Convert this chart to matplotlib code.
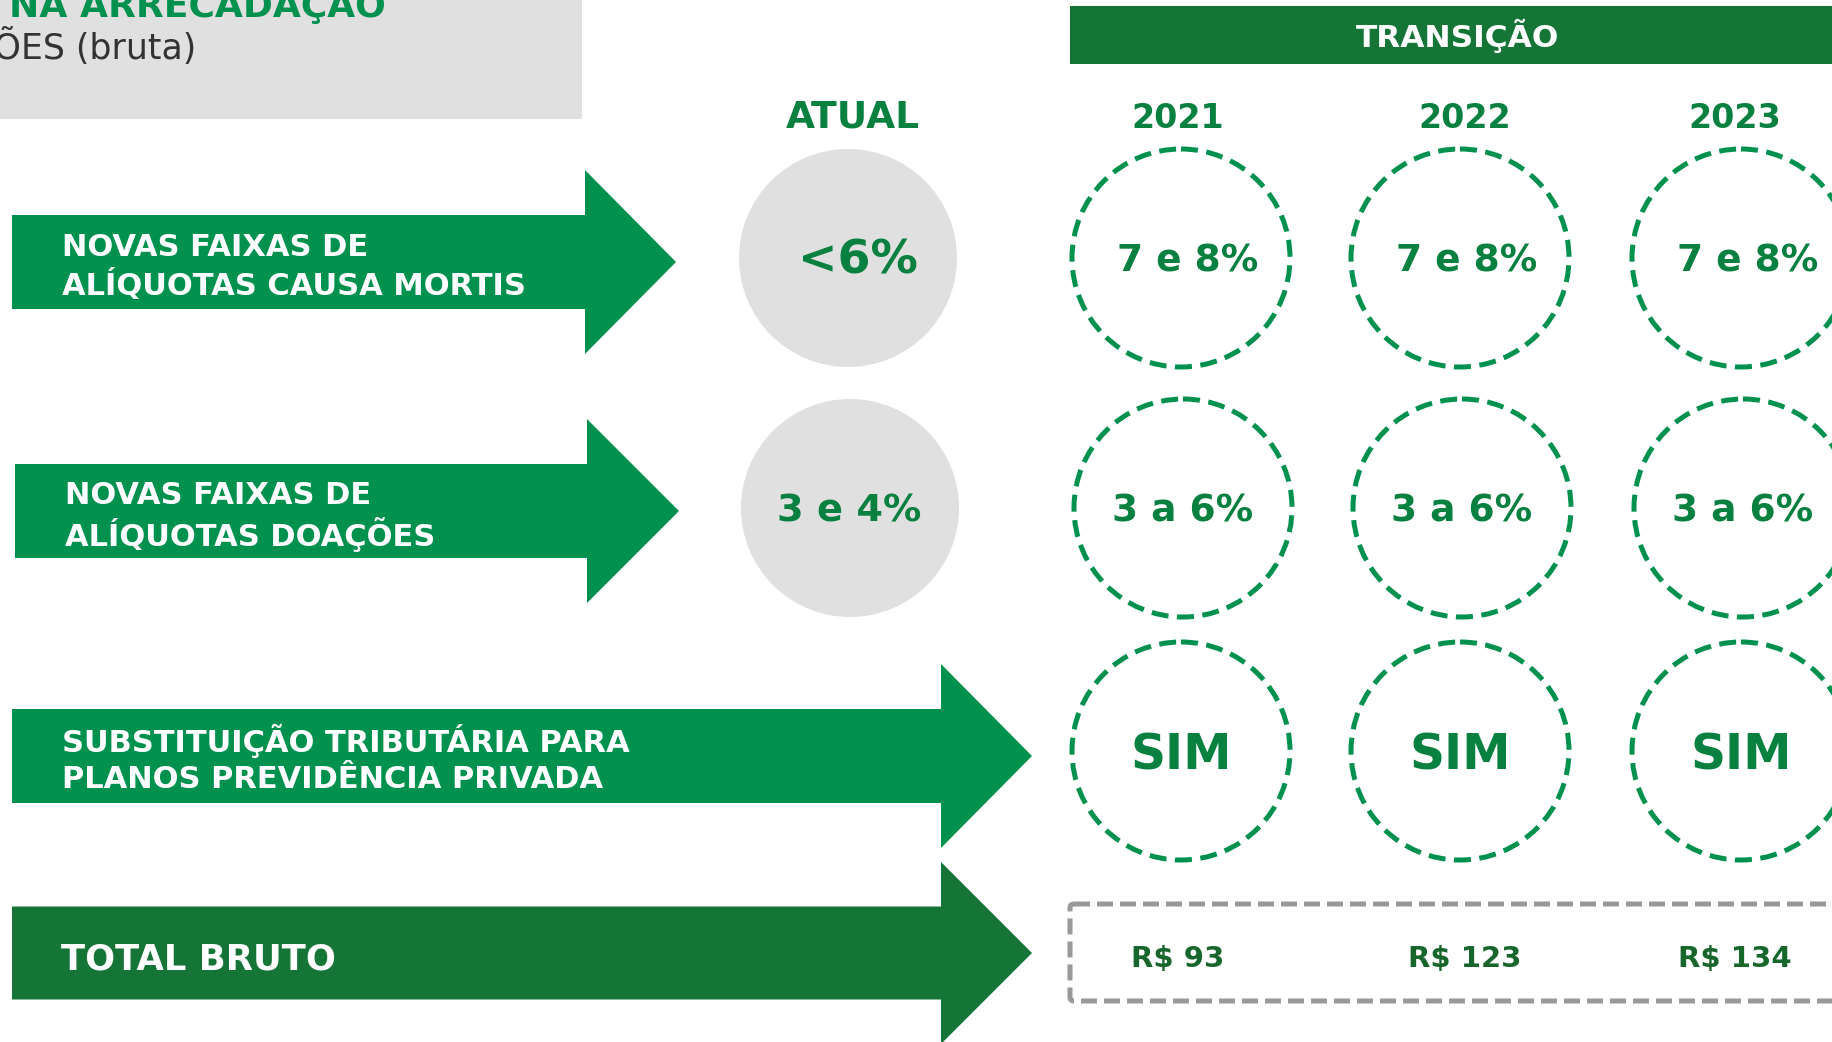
import matplotlib.pyplot as plt
from matplotlib.patches import Circle, Polygon, FancyBboxPatch

# content
row_labels = [
    ["NOVAS FAIXAS DE", "ALÍQUOTAS CAUSA MORTIS"],
    ["NOVAS FAIXAS DE", "ALÍQUOTAS DOAÇÕES"],
    ["SUBSTITUIÇÃO TRIBUTÁRIA PARA", "PLANOS PREVIDÊNCIA PRIVADA"],
]
atual_values = ["<6%", "3 e 4%"]
years = ["2021", "2022", "2023"]
transition_values = [
    ["7 e 8%", "7 e 8%", "7 e 8%"],
    ["3 a 6%", "3 a 6%", "3 a 6%"],
    ["SIM", "SIM", "SIM"],
]
total_label = "TOTAL BRUTO"
total_values = ["R$ 93", "R$ 123", "R$ 134"]

GREEN = "#00914F"
DARK = "#157537"
TXT = "#08803F"
TOT_TXT = "#17672D"
GRAY = "#E0E0E0"

plt.rcParams["font.family"] = ["DejaVu Sans"]

W, H = 1833, 1042
fig = plt.figure(figsize=(W / 100, H / 100), dpi=100)
ax = fig.add_axes([0, 0, 1, 1])
ax.set_xlim(0, W)
ax.set_ylim(H, 0)
ax.axis("off")


def arrow(x0, xb, xtip, yc, bh, hh, color):
    pts = [(x0, yc - bh), (xb, yc - bh), (xb, yc - hh), (xtip, yc),
           (xb, yc + hh), (xb, yc + bh), (x0, yc + bh)]
    ax.add_patch(Polygon(pts, closed=True, facecolor=color, edgecolor="none"))


# header box top-left (cropped in the original too)
ax.add_patch(plt.Rectangle((0, 0), 582, 119, facecolor=GRAY, edgecolor="none"))
ax.text(386, 17, "IMPACTO NA ARRECADAÇÃO", ha="right", va="baseline",
        fontsize=26, fontweight="bold", color=GREEN)
ax.text(196, 46, "R$ BILHÕES (bruta)", ha="right", va="center",
        fontsize=25, color="#333333")

# transição banner
ax.add_patch(plt.Rectangle((1070, 6), 800, 58, facecolor=DARK, edgecolor="none"))
ax.text(1458, 36, "TRANSIÇÃO", ha="center", va="center", fontsize=22.5,
        fontweight="bold", color="white")

ax.text(853, 117, "ATUAL", ha="center", va="center", fontsize=27,
        fontweight="bold", color=TXT)

col_x = [1181, 1460, 1741]
head_x = [1178, 1465, 1735]
for x, yr in zip(head_x, years):
    ax.text(x, 119, yr, ha="center", va="center", fontsize=24,
            fontweight="bold", color=TXT)

row_y = [258, 508, 751]
arrow_geo = [(12, 585, 676, 262), (15, 587, 679, 511), (12, 941, 1032, 756)]
label_x = [62, 65, 62]
for i, lines in enumerate(row_labels):
    x0, xb, xt, yc = arrow_geo[i]
    arrow(x0, xb, xt, yc, 47, 92, GREEN)
    ax.text(label_x[i], yc - 15, lines[0], ha="left", va="center",
            fontsize=22, fontweight="bold", color="white")
    ax.text(label_x[i], yc + 23, lines[1], ha="left", va="center",
            fontsize=22, fontweight="bold", color="white")

# atual circles
atual_x = [858, 849]
atual_fs = [34, 27.5]
for i, val in enumerate(atual_values):
    cx = 848 + 2 * i
    ax.add_patch(Circle((cx, row_y[i]), 109, facecolor=GRAY, edgecolor="none"))
    ax.text(atual_x[i], row_y[i] + 3, val, ha="center", va="center",
            fontsize=atual_fs[i], fontweight="bold", color=TXT)

# transition circles
text_dx = [7, 0, 0]
text_fs = [27, 27, 35]
for r, vals in enumerate(transition_values):
    for c, val in enumerate(vals):
        cx = col_x[c] + (2 if r == 1 else 0)
        ax.add_patch(Circle((cx, row_y[r]), 109, facecolor="none",
                            edgecolor=GREEN, lw=3.6, linestyle=(0, (3.4, 1.7))))
        ax.text(cx + text_dx[r], row_y[r] + 4, val, ha="center", va="center",
                fontsize=text_fs[r], fontweight="bold", color=TXT)

# total row
arrow(12, 941, 1032, 953, 46.5, 91, DARK)
ax.text(61, 960, total_label, ha="left", va="center", fontsize=25.5,
        fontweight="bold", color="white")
ax.add_patch(FancyBboxPatch((1070, 904), 800, 97,
                            boxstyle="round,pad=0,rounding_size=4",
                            facecolor="none", edgecolor="#999999", lw=3.6,
                            linestyle=(0, (3.2, 1.4))))
for x, val in zip(head_x, total_values):
    ax.text(x, 959, val, ha="center", va="center", fontsize=21,
            fontweight="bold", color=TOT_TXT)

fig.savefig("out.png", dpi=100)
plt.close(fig)
